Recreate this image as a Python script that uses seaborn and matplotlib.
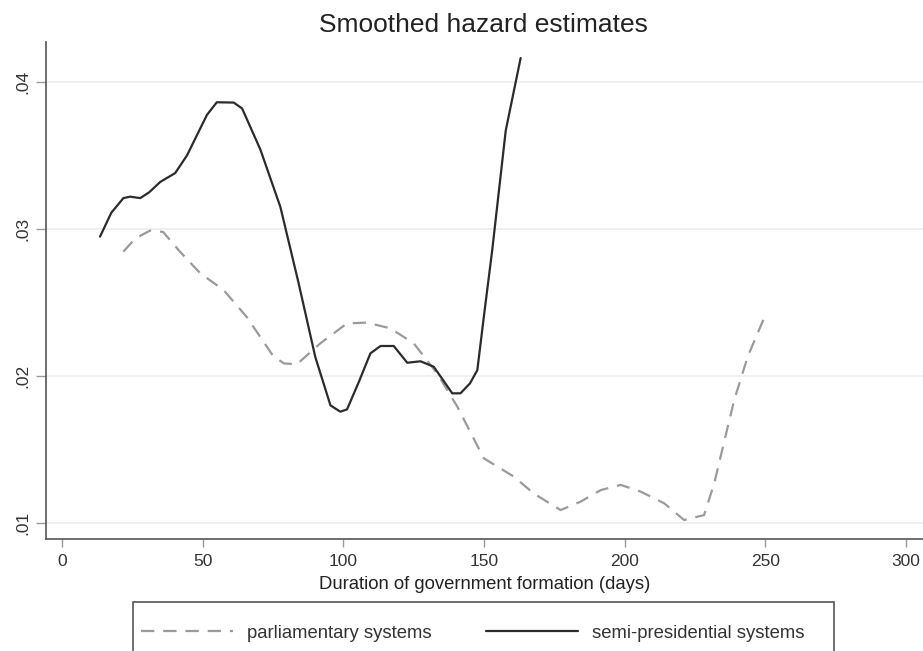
import matplotlib
matplotlib.use("Agg")
import matplotlib.pyplot as plt
from matplotlib.patches import Rectangle
import numpy as np
import pandas as pd
import seaborn as sns

# Valeurs (jours, taux de hasard lissé)
jours_parl = [21.8, 26.0, 31.3, 35.9, 41.9, 49.1, 57.4, 65.7, 75.2, 79.0, 83.5,
              91.8, 101.3, 108.4, 116.7, 125.0, 133.3, 140.5, 149.9, 160.6,
              167.7, 177.2, 184.3, 191.5, 198.6, 205.7, 214.0, 221.1, 228.2,
              231.8, 238.9, 243.7, 250.2]
hasard_parl = [0.02846, 0.02935, 0.02989, 0.02980, 0.02846, 0.02699, 0.02585,
               0.02400, 0.02131, 0.02085, 0.02080, 0.02222, 0.02358, 0.02363,
               0.02324, 0.02222, 0.02018, 0.01791, 0.01440, 0.01315, 0.01200,
               0.01088, 0.01145, 0.01224, 0.01259, 0.01213, 0.01134, 0.01020,
               0.01054, 0.01270, 0.01837, 0.02131, 0.02426]

jours_semi = [13.5, 17.5, 21.8, 24.2, 27.8, 31.0, 34.9, 40.2, 44.4, 51.5, 55.0,
              61.0, 64.0, 70.5, 77.6, 84.1, 90.0, 95.4, 98.9, 101.3, 105.5,
              109.6, 113.2, 117.9, 122.7, 127.4, 132.1, 138.7, 141.6, 145.0,
              147.6, 149.9, 152.9, 157.7, 163.0]
hasard_semi = [0.02948, 0.03110, 0.03210, 0.03220, 0.03210, 0.03250, 0.03320,
               0.03380, 0.03500, 0.03776, 0.03862, 0.03860, 0.03820, 0.03540,
               0.03150, 0.02630, 0.02130, 0.01800, 0.01757, 0.01773, 0.01960,
               0.02154, 0.02204, 0.02204, 0.02090, 0.02100, 0.02063, 0.01882,
               0.01882, 0.01950, 0.02040, 0.02400, 0.02857, 0.03670, 0.04163]

x_ticks = [0, 50, 100, 150, 200, 250, 300]
y_ticks = [0.01, 0.02, 0.03, 0.04]
y_tick_labels = [".01", ".02", ".03", ".04"]

df = pd.concat([
    pd.DataFrame({"jours": jours_parl, "hasard": hasard_parl,
                  "systeme": "parliamentary systems"}),
    pd.DataFrame({"jours": jours_semi, "hasard": hasard_semi,
                  "systeme": "semi-presidential systems"}),
])

sns.set_theme(style="white")
plt.rcParams["font.family"] = ["Liberation Sans", "DejaVu Sans"]

fig = plt.figure(figsize=(9.23, 6.51), dpi=100)
ax = fig.add_axes([46 / 923, 1 - 539 / 651, 877 / 923, 497 / 651])

gris_parl = "#9a9a9a"
noir_semi = "#2b2b2b"

sns.lineplot(data=df, x="jours", y="hasard", hue="systeme", style="systeme",
             palette={"parliamentary systems": gris_parl,
                      "semi-presidential systems": noir_semi},
             dashes={"parliamentary systems": (6, 4),
                     "semi-presidential systems": ""},
             estimator=None, sort=False, linewidth=1.6, ax=ax, legend=False)

ax.set_xlim(-5.7, 306)
ax.set_ylim(0.00891, 0.04272)
ax.set_xticks(x_ticks)
ax.set_yticks(y_ticks)
ax.set_yticklabels(y_tick_labels, rotation=90, va="center")
ax.tick_params(axis="both", direction="out", width=1, color="#9a9a9a",
               labelsize=12.5, labelcolor="#333333", left=True, bottom=True)
ax.tick_params(axis="y", length=7.5, pad=4)
ax.tick_params(axis="x", length=5.5, pad=5)
ax.grid(axis="y", color="#ececec", linewidth=1.2)
ax.grid(axis="x", visible=False)
for cote in ["top", "right"]:
    ax.spines[cote].set_visible(False)
for cote in ["left", "bottom"]:
    ax.spines[cote].set_color("#555555")
    ax.spines[cote].set_linewidth(1.2)

ax.set_xlabel("Duration of government formation (days)", fontsize=13.3,
              color="#222222", labelpad=5)
ax.set_ylabel("")
fig.suptitle("Smoothed hazard estimates", x=483 / 923, y=1 - 25 / 651, va="center",
             fontsize=19, color="#222222")

# Légende en bas, dans un cadre coupé par le bord de l'image
fig.patches.append(Rectangle((133 / 923, -0.05), 701 / 923, 0.05 + 1 - 602 / 651,
                             transform=fig.transFigure, fill=False,
                             edgecolor="#555555", linewidth=1.2))
h_parl, = ax.plot([], [], color=gris_parl, linewidth=1.6, dashes=(6, 4))
h_semi, = ax.plot([], [], color=noir_semi, linewidth=1.6)
fig.legend([h_parl, h_semi], ["parliamentary systems", "semi-presidential systems"],
           loc="center left", bbox_to_anchor=(141 / 923, 1 - 633 / 651), ncol=2,
           fontsize=13.3, frameon=False, borderpad=0, borderaxespad=0,
           handlelength=5.0, handletextpad=0.76, columnspacing=2.9,
           labelcolor="#333333")

plt.savefig("out.png", dpi=100)
